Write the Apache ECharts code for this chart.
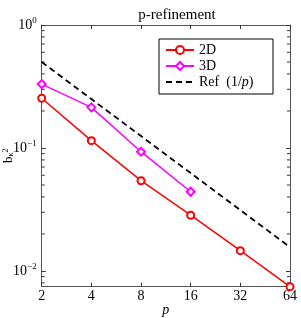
<!DOCTYPE html>
<html><head><meta charset="utf-8">
<script src="https://cdn.jsdelivr.net/npm/echarts@6/dist/echarts.min.js"></script>
<style>html,body{margin:0;padding:0;background:#fff}#c{width:301px;height:318px}</style>
</head><body><div id="c"></div>
<script>
var pValues = [2, 4, 8, 16, 32, 64];
var err2D = [0.2535, 0.1147, 0.0542, 0.0284, 0.01463, 0.00746];
var p3D = [2, 4, 8, 16];
var err3D = [0.331, 0.214, 0.0933, 0.0441];
var refValues = [0.5, 0.25, 0.125, 0.0625, 0.03125, 0.015625];
var yMin = 0.00745, yMax = 1;
var xMin = 2, xMax = 64;

var minorVals = [];
for (var e = -3; e < 0; e++) {
  for (var k = 2; k <= 9; k++) {
    var v = k * Math.pow(10, e);
    if (v > yMin && v < yMax) minorVals.push([xMin, v]);
  }
}
var SERIF = 'Liberation Serif, DejaVu Serif, serif';
function pairs(xs, ys) { return xs.map(function (x, i) { return [x, ys[i]]; }); }
function yFmt(v) {
  var e = Math.round(Math.log10(v));
  if (Math.abs(v - Math.pow(10, e)) / v > 1e-6) return '';
  return '{b|10}{s|' + (e < 0 ? '\u2212' + (-e) : e) + '}';
}
var tickCol = '#333';
var chart = echarts.init(document.getElementById('c'));
chart.setOption({
  animation: false,
  backgroundColor: '#fff',
  title: {
    text: 'p-refinement', left: 172, top: 3, textAlign: 'center',
    textStyle: { fontFamily: SERIF, fontSize: 15, fontWeight: 'normal', color: '#000' }
  },
  grid: { left: 41.7, right: 11, top: 25, bottom: 31.3, containLabel: false, outerBoundsMode: 'none' },
  legend: {
    orient: 'vertical', left: 159, top: 39,
    backgroundColor: '#fff', borderColor: '#000', borderWidth: 1, borderRadius: 0,
    padding: [3, 6, 4, 6], itemWidth: 28, itemHeight: 10, itemGap: 0,
    textStyle: { fontFamily: SERIF, fontSize: 14, color: '#000', lineHeight: 16, width: 68,
      rich: { i: { fontFamily: SERIF, fontSize: 14, fontStyle: 'italic', lineHeight: 16 } } },
    formatter: function (n) { return n === 'Ref (1/p)' ? 'Ref  (1/{i|p})' : n; },
    data: ['2D', '3D', 'Ref (1/p)']
  },
  xAxis: [{
    type: 'log', logBase: 2, min: xMin, max: xMax,
    name: 'p', nameLocation: 'middle', nameGap: 17, nameMoveOverlap: false,
    nameTextStyle: { fontFamily: SERIF, fontSize: 14, fontStyle: 'italic', color: '#000' },
    axisLine: { lineStyle: { color: '#555', width: 1 } },
    axisTick: { inside: true, length: 4, lineStyle: { color: tickCol } },
    axisLabel: { fontFamily: SERIF, fontSize: 14, color: '#000', margin: 3 },
    splitLine: { show: false }, minorTick: { show: false }
  }, {
    type: 'log', logBase: 2, min: xMin, max: xMax, position: 'top',
    axisLine: { lineStyle: { color: '#555', width: 1 } },
    axisTick: { inside: true, length: 4, lineStyle: { color: tickCol } },
    axisLabel: { show: false }, splitLine: { show: false }
  }],
  yAxis: [{
    type: 'log', logBase: 10, min: yMin, max: yMax,
    name: '{b|b}{k|\u03BA}{t|2}', nameLocation: 'middle', nameGap: 27, nameRotate: 90, nameMoveOverlap: false,
    nameTextStyle: { color: '#000', fontFamily: SERIF, fontSize: 13,
      rich: { b: { fontFamily: SERIF, fontSize: 13, color: '#000' },
              k: { fontFamily: SERIF, fontSize: 8, color: '#000', verticalAlign: 'bottom' },
              t: { fontFamily: SERIF, fontSize: 8, color: '#000', verticalAlign: 'top' } } },
    axisLine: { lineStyle: { color: '#555', width: 1 } },
    axisTick: { inside: true, length: 4, lineStyle: { color: tickCol } },
    axisLabel: { formatter: yFmt, margin: 5, showMinLabel: false,
      rich: { b: { fontFamily: SERIF, fontSize: 14, color: '#000' },
              s: { fontFamily: SERIF, fontSize: 9, color: '#000', verticalAlign: 'top', padding: [0, 0, 8, 0] } } },
    splitLine: { show: false }
  }, {
    type: 'log', logBase: 10, min: yMin, max: yMax, position: 'right',
    axisLine: { lineStyle: { color: '#555', width: 1 } },
    axisTick: { inside: true, length: 4, lineStyle: { color: tickCol } },
    axisLabel: { show: false }, splitLine: { show: false }
  }],
  series: [{
    type: 'custom', silent: true, xAxisIndex: 0, yAxisIndex: 0, z: 1,
    data: minorVals,
    renderItem: function (params, api) {
      var l = api.coord([xMin, api.value(1)]);
      var r = api.coord([xMax, api.value(1)]);
      var st = { stroke: tickCol, lineWidth: 1 };
      return { type: 'group', children: [
        { type: 'line', shape: { x1: l[0], y1: l[1], x2: l[0] + 3, y2: l[1] }, style: st },
        { type: 'line', shape: { x1: r[0], y1: r[1], x2: r[0] - 3, y2: r[1] }, style: st }
      ] };
    }
  }, {
    name: '2D', type: 'line', data: pairs(pValues, err2D),
    symbol: 'emptyCircle', symbolSize: 7,
    lineStyle: { color: '#ff0000', width: 1.5 },
    itemStyle: { color: '#ff0000', borderWidth: 1.3 }, z: 3
  }, {
    name: '3D', type: 'line', data: pairs(p3D, err3D),
    symbol: 'emptyDiamond', symbolSize: 8,
    lineStyle: { color: '#ff00ff', width: 1.5 },
    itemStyle: { color: '#ff00ff', borderWidth: 1.3 }, z: 3
  }, {
    name: 'Ref (1/p)', type: 'line', data: pairs(pValues, refValues),
    symbol: 'none', lineStyle: { color: '#000', width: 1.8, type: [6, 4] },
    itemStyle: { color: '#000', opacity: 0 }, z: 2
  }]
});
</script></body></html>
